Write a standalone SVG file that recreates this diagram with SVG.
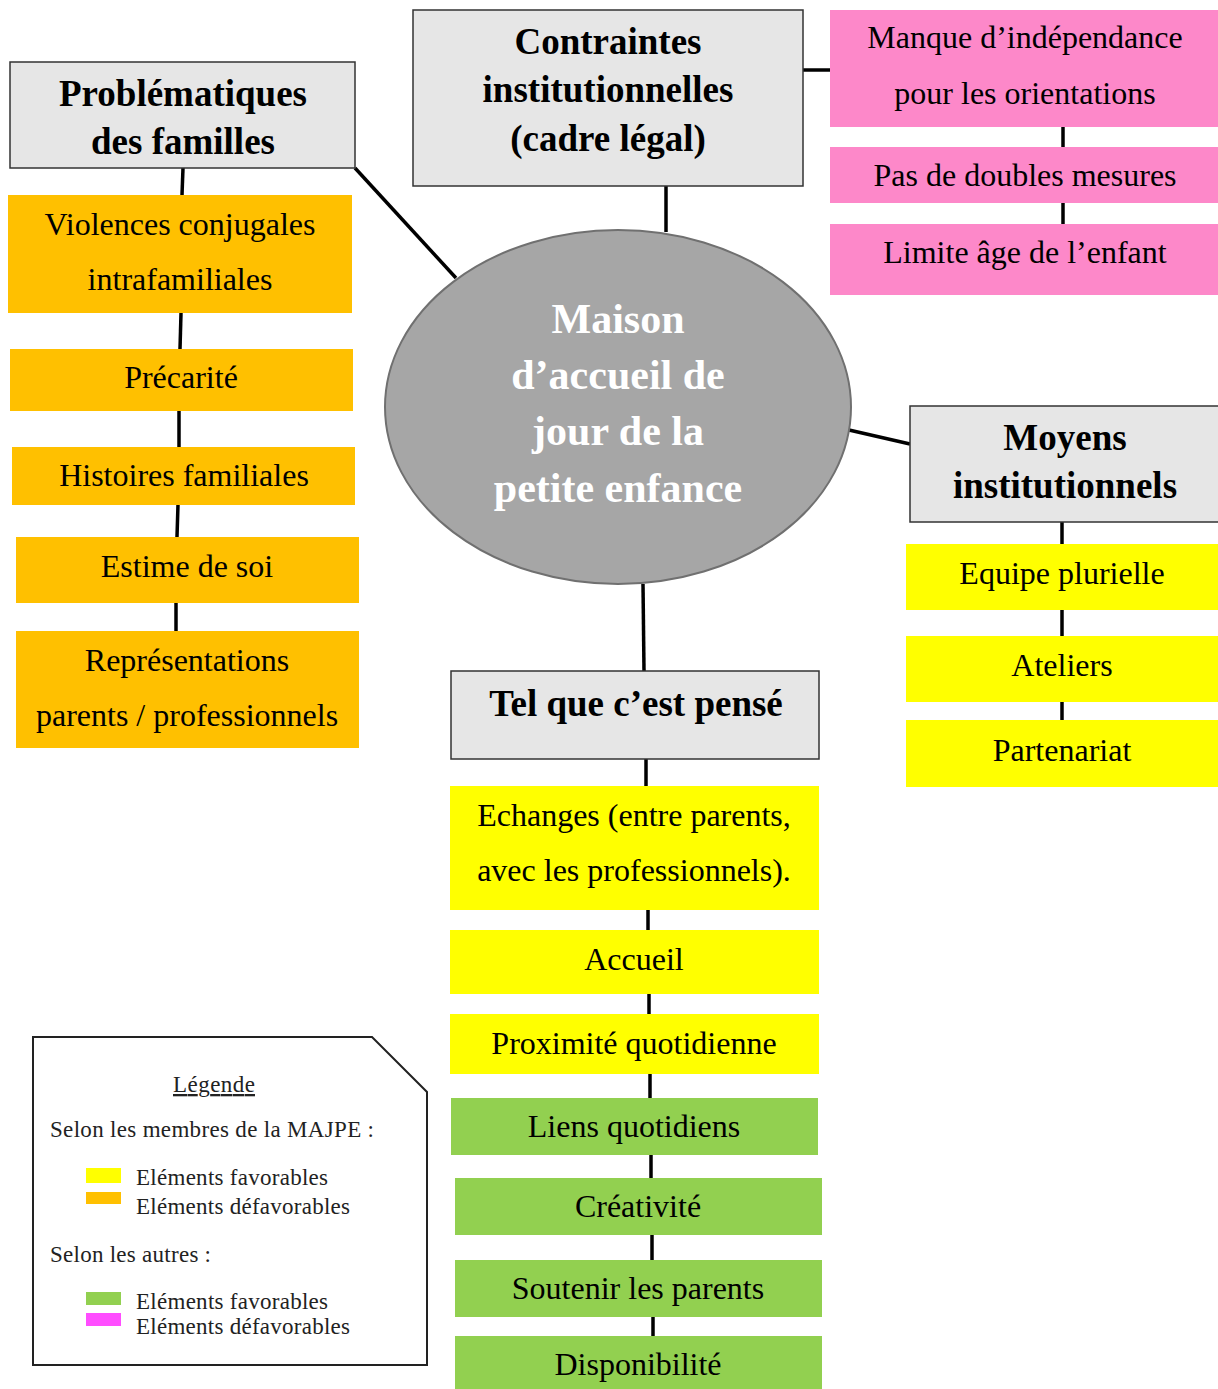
<svg xmlns="http://www.w3.org/2000/svg" width="1218" height="1389" viewBox="0 0 1218 1389">
<style>
  .hdr{fill:#e6e6e6;stroke:#333;stroke-width:1.5}
  .org{fill:#ffc000}
  .pnk{fill:#fd88c9}
  .yel{fill:#ffff00}
  .grn{fill:#92d050}
  .ht{font-family:"Liberation Serif","Times New Roman",serif;font-weight:bold;font-size:37px;fill:#000;text-anchor:middle}
  .t{font-family:"Liberation Serif","Times New Roman",serif;font-size:32px;fill:#000;text-anchor:middle}
  .ct{font-family:"Liberation Serif","Times New Roman",serif;font-weight:bold;font-size:42px;fill:#fff;text-anchor:middle}
  .lg{font-family:"Liberation Serif","Times New Roman",serif;font-size:23px;fill:#222}
  .con line{stroke:#000;stroke-width:3.5}
</style>
<rect width="1218" height="1389" fill="#fff"/>

<g class="con">
  <line x1="355" y1="168" x2="456" y2="278"/>
  <line x1="666" y1="186" x2="666" y2="232"/>
  <line x1="803" y1="70" x2="830" y2="70"/>
  <line x1="849" y1="430" x2="910" y2="444"/>
  <line x1="643" y1="584" x2="644" y2="671"/>
  <line x1="183" y1="168" x2="182" y2="195"/>
  <line x1="181" y1="313" x2="180" y2="349"/>
  <line x1="179" y1="411" x2="179" y2="447"/>
  <line x1="178" y1="505" x2="177" y2="537"/>
  <line x1="176" y1="603" x2="176" y2="631"/>
  <line x1="1063" y1="127" x2="1063" y2="147"/>
  <line x1="1063" y1="203" x2="1063" y2="224"/>
  <line x1="1062" y1="522" x2="1062" y2="544"/>
  <line x1="1062" y1="610" x2="1062" y2="636"/>
  <line x1="1062" y1="702" x2="1062" y2="720"/>
  <line x1="646" y1="759" x2="646" y2="786"/>
  <line x1="648" y1="910" x2="648" y2="930"/>
  <line x1="649" y1="994" x2="649" y2="1014"/>
  <line x1="650" y1="1074" x2="650" y2="1098"/>
  <line x1="651" y1="1155" x2="651" y2="1178"/>
  <line x1="652" y1="1235" x2="652" y2="1260"/>
  <line x1="653" y1="1317" x2="653" y2="1336"/>
</g>

<g id="centre">
  <ellipse cx="618" cy="407" rx="233" ry="177" fill="#a6a6a6" stroke="#707070" stroke-width="2"/>
  <text class="ct" x="618" y="333">Maison</text>
  <text class="ct" x="618" y="389">d’accueil de</text>
  <text class="ct" x="618" y="445">jour de la</text>
  <text class="ct" x="618" y="502">petite enfance</text>
</g>

<g id="problematiques">
  <rect class="hdr" x="10" y="62" width="345" height="106"/>
  <text class="ht" x="183" y="106">Problématiques</text>
  <text class="ht" x="183" y="154">des familles</text>
</g>
<g id="violences">
  <rect class="org" x="8" y="195" width="344" height="118"/>
  <text class="t" x="180" y="235">Violences conjugales</text>
  <text class="t" x="180" y="290">intrafamiliales</text>
</g>
<g id="precarite">
  <rect class="org" x="10" y="349" width="343" height="62"/>
  <text class="t" x="181" y="388">Précarité</text>
</g>
<g id="histoires">
  <rect class="org" x="12" y="447" width="343" height="58"/>
  <text class="t" x="184" y="486">Histoires familiales</text>
</g>
<g id="estime">
  <rect class="org" x="16" y="537" width="343" height="66"/>
  <text class="t" x="187" y="577">Estime de soi</text>
</g>
<g id="representations">
  <rect class="org" x="16" y="631" width="343" height="117"/>
  <text class="t" x="187" y="671">Représentations</text>
  <text class="t" x="187" y="726">parents / professionnels</text>
</g>

<g id="contraintes">
  <rect class="hdr" x="413" y="10" width="390" height="176"/>
  <text class="ht" x="608" y="54">Contraintes</text>
  <text class="ht" x="608" y="102">institutionnelles</text>
  <text class="ht" x="608" y="151">(cadre légal)</text>
</g>
<g id="manque">
  <rect class="pnk" x="830" y="10" width="388" height="117"/>
  <text class="t" x="1025" y="48">Manque d’indépendance</text>
  <text class="t" x="1025" y="104">pour les orientations</text>
</g>
<g id="doubles">
  <rect class="pnk" x="830" y="147" width="388" height="56"/>
  <text class="t" x="1025" y="186">Pas de doubles mesures</text>
</g>
<g id="limite">
  <rect class="pnk" x="830" y="224" width="388" height="71"/>
  <text class="t" x="1025" y="263">Limite âge de l’enfant</text>
</g>

<g id="moyens">
  <rect class="hdr" x="910" y="406" width="310" height="116"/>
  <text class="ht" x="1065" y="450">Moyens</text>
  <text class="ht" x="1065" y="498">institutionnels</text>
</g>
<g id="equipe">
  <rect class="yel" x="906" y="544" width="312" height="66"/>
  <text class="t" x="1062" y="584">Equipe plurielle</text>
</g>
<g id="ateliers">
  <rect class="yel" x="906" y="636" width="312" height="66"/>
  <text class="t" x="1062" y="676">Ateliers</text>
</g>
<g id="partenariat">
  <rect class="yel" x="906" y="720" width="312" height="67"/>
  <text class="t" x="1062" y="761">Partenariat</text>
</g>

<g id="pense">
  <rect class="hdr" x="451" y="671" width="368" height="88"/>
  <text class="ht" x="636" y="716">Tel que c’est pensé</text>
</g>
<g id="echanges">
  <rect class="yel" x="450" y="786" width="369" height="124"/>
  <text class="t" x="634" y="826">Echanges (entre parents,</text>
  <text class="t" x="634" y="881">avec les professionnels).</text>
</g>
<g id="accueil">
  <rect class="yel" x="450" y="930" width="369" height="64"/>
  <text class="t" x="634" y="970">Accueil</text>
</g>
<g id="proximite">
  <rect class="yel" x="450" y="1014" width="369" height="60"/>
  <text class="t" x="634" y="1054">Proximité quotidienne</text>
</g>
<g id="liens">
  <rect class="grn" x="451" y="1098" width="367" height="57"/>
  <text class="t" x="634" y="1137">Liens quotidiens</text>
</g>
<g id="creativite">
  <rect class="grn" x="455" y="1178" width="367" height="57"/>
  <text class="t" x="638" y="1217">Créativité</text>
</g>
<g id="soutenir">
  <rect class="grn" x="455" y="1260" width="367" height="57"/>
  <text class="t" x="638" y="1299">Soutenir les parents</text>
</g>
<g id="disponibilite">
  <rect class="grn" x="455" y="1336" width="367" height="53"/>
  <text class="t" x="638" y="1375">Disponibilité</text>
</g>

<g id="legende">
  <polygon points="33,1037 372,1037 427,1092 427,1365 33,1365" fill="#fff" stroke="#222" stroke-width="2"/>
  <text class="lg" x="214" y="1092" text-anchor="middle" text-decoration="underline" textLength="82">Légende</text>
  <text class="lg" x="50" y="1137" textLength="324">Selon les membres de la MAJPE :</text>
  <rect x="86" y="1168" width="35" height="15" fill="#ffff00"/>
  <text class="lg" x="136" y="1185" textLength="192">Eléments favorables</text>
  <rect x="86" y="1192" width="35" height="12" fill="#ffc000"/>
  <text class="lg" x="136" y="1214" textLength="214">Eléments défavorables</text>
  <text class="lg" x="50" y="1262" textLength="161">Selon les autres :</text>
  <rect x="86" y="1292" width="35" height="13" fill="#92d050"/>
  <text class="lg" x="136" y="1309" textLength="192">Eléments favorables</text>
  <rect x="86" y="1313" width="35" height="13" fill="#ff4dff"/>
  <text class="lg" x="136" y="1334" textLength="214">Eléments défavorables</text>
</g>
</svg>
